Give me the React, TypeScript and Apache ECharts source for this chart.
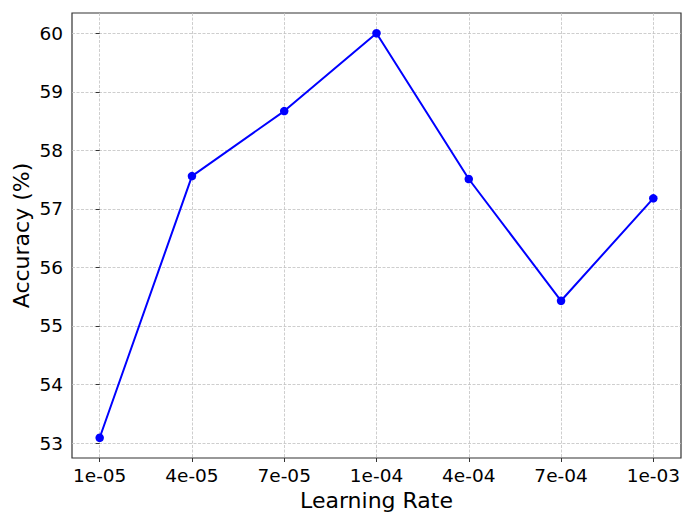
import React, { useEffect, useRef } from "react";
import * as echarts from "echarts";

const categories = ["1e-05", "4e-05", "7e-05", "1e-04", "4e-04", "7e-04", "1e-03"];
const accuracy = [53.09, 57.56, 58.67, 60.0, 57.51, 55.43, 57.18];
const yTicks = [53, 54, 55, 56, 57, 58, 59, 60];
const xTitle = "Learning Rate";
const yTitle = "Accuracy (%)";

export default function App() {
  const ref = useRef<HTMLDivElement>(null);
  useEffect(() => {
    if (!ref.current) return;
    const chart = echarts.init(ref.current, null, { renderer: "svg" });
    const lo = Math.min(...accuracy);
    const hi = Math.max(...accuracy);
    const pad = (hi - lo) * 0.05;
    const n = categories.length - 1;
    const font = "DejaVu Sans";
    const gridLine = { show: true, lineStyle: { color: "#c2c2c2", width: 0.8, type: [3, 1.5] as any } };
    chart.setOption({
      animation: false,
      backgroundColor: "#fff",
      grid: {
        left: 72,
        top: 13,
        width: 609,
        height: 445,
        show: true,
        borderColor: "#333",
        borderWidth: 1.2,
        backgroundColor: "transparent",
        containLabel: false,
      },
      xAxis: {
        type: "value",
        min: -0.05 * n,
        max: n * 1.05,
        minInterval: 1,
        maxInterval: 1,
        splitNumber: 7,
        axisLine: { show: false },
        axisTick: { show: true, inside: false, length: 4, lineStyle: { color: "#333", width: 1 }, customValues: categories.map((_, i) => i) },
        axisLabel: {
          show: true,
          customValues: categories.map((_, i) => i),
          formatter: (v: number) => {
            const i = Math.round(v);
            return Math.abs(v - i) < 1e-6 && categories[i] ? categories[i] : "";
          },
          color: "#000",
          fontFamily: font,
          fontSize: 18.5,
          margin: 8,
          showMinLabel: true,
          showMaxLabel: true,
        },
        splitLine: gridLine,
        name: xTitle,
        nameLocation: "middle",
        nameGap: 31,
        nameMoveOverlap: false,
        nameTextStyle: { color: "#000", fontFamily: font, fontSize: 22 },
      },
      yAxis: {
        type: "value",
        min: lo - pad,
        max: hi + pad,
        minInterval: 1,
        maxInterval: 1,
        splitNumber: 8,
        axisLine: { show: false },
        axisTick: { show: true, inside: false, length: 4, lineStyle: { color: "#333", width: 1 }, customValues: yTicks },
        axisLabel: {
          customValues: yTicks,
          formatter: (v: number) => (Math.abs(v - Math.round(v)) < 1e-6 ? String(Math.round(v)) : ""),
          color: "#000",
          fontFamily: font,
          fontSize: 18.5,
          margin: 9,
        },
        splitLine: gridLine,
        name: yTitle,
        nameLocation: "middle",
        nameGap: 40,
        nameMoveOverlap: false,
        nameTextStyle: { color: "#000", fontFamily: font, fontSize: 22 },
      },
      series: [
        {
          type: "line",
          data: accuracy.map((v, i) => [i, v]),
          symbol: "circle",
          symbolSize: 8.5,
          lineStyle: { color: "#0000ff", width: 2 },
          itemStyle: { color: "#0000ff" },
          z: 5,
        },
      ],
    });
    return () => chart.dispose();
  }, []);
  return <div ref={ref} style={{ width: 698, height: 523, position: "absolute", left: 0, top: 0 }} />;
}
